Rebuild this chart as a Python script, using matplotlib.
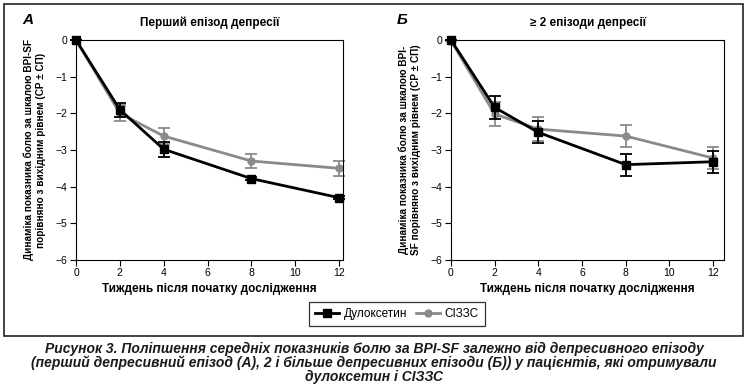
import matplotlib
matplotlib.use("Agg")
import matplotlib.pyplot as plt
from matplotlib.lines import Line2D
from matplotlib.patches import Rectangle

# data
weeks = [0, 2, 4, 8, 12]

a_dulox = [0, -1.9, -2.98, -3.78, -4.3]
a_dulox_err = [0, 0.19, 0.2, 0.05, 0.05]
a_snri = [0, -2.0, -2.62, -3.3, -3.5]
a_snri_err = [0, 0.22, 0.22, 0.18, 0.2]

b_dulox = [0, -1.84, -2.52, -3.4, -3.32]
b_dulox_err = [0, 0.31, 0.3, 0.3, 0.3]
b_snri = [-0.02, -2.02, -2.43, -2.62, -3.22]
b_snri_err = [0, 0.32, 0.32, 0.3, 0.3]

y_ticks = [0, -1, -2, -3, -4, -5, -6]
x_ticks = [0, 2, 4, 6, 8, 10, 12]

plt.rcParams['font.family'] = ['Liberation Sans', 'DejaVu Sans']

W, H = 748, 392
fig = plt.figure(figsize=(W / 100, H / 100), dpi=100)


def px_axes(x0, y0, x1, y1):
    return fig.add_axes([x0 / W, 1 - y1 / H, (x1 - x0) / W, (y1 - y0) / H])


def panel(ax, dul, dul_e, sn, sn_e, xmax, title, letter, ylabel):
    ax.errorbar(weeks, sn, yerr=sn_e, color='#8a8a8a', lw=2, marker='o', ms=5,
                capsize=4, elinewidth=1.3, capthick=1.3, zorder=2)
    ax.errorbar(weeks, dul, yerr=dul_e, color='black', lw=2, marker='s', ms=5.5,
                capsize=4, elinewidth=1.3, capthick=1.3, zorder=3)
    ax.set_xlim(0, xmax)
    ax.set_ylim(-6, 0)
    ax.set_xticks(x_ticks)
    ax.set_yticks(y_ticks)
    ax.tick_params(labelsize=7.5, length=4, width=0.8, pad=2)
    for s in ax.spines.values():
        s.set_linewidth(0.8)
    for p in ax.get_children():
        if hasattr(p, 'set_clip_on'):
            p.set_clip_on(False)
    ax.set_xlabel('Тиждень після початку дослідження', fontsize=8.5,
                  fontweight='bold', labelpad=3)
    ax.set_ylabel(ylabel, fontsize=7.2, fontweight='bold', labelpad=7,
                  linespacing=1.2)
    ax.set_title(title, fontsize=8.5, fontweight='bold', pad=10)
    ax.text(-0.18, 1.09, letter, transform=ax.transAxes, fontsize=11,
            fontweight='bold', style='italic', ha='center', va='center')


ax1 = px_axes(76, 40, 343, 260)
panel(ax1, a_dulox, a_dulox_err, a_snri, a_snri_err, 12.18,
      'Перший епізод депресії', 'А',
      'Динаміка показника болю за шкалою BPI-SF\nпорівняно з вихідним рівнем (СР ± СП)')

ax2 = px_axes(451, 40, 724, 260)
panel(ax2, b_dulox, b_dulox_err, b_snri, b_snri_err, 12.5,
      '≥ 2 епізоди депресії', 'Б',
      'Динаміка показника болю за шкалою BPI-\nSF порівняно з вихідним рівнем (СР ± СП)')

handles = [Line2D([], [], color='black', lw=2, marker='s', ms=5.5),
           Line2D([], [], color='#8a8a8a', lw=2, marker='o', ms=5)]
leg = fig.legend(handles, ['Дулоксетин', 'СІЗЗС'], loc='center',
                 bbox_to_anchor=(397 / W, 1 - 314 / H), ncol=2, fontsize=8.5,
                 frameon=True, fancybox=False, handlelength=2.0,
                 columnspacing=0.8, handletextpad=0.4, borderpad=0.5)
leg.get_frame().set_edgecolor('black')
leg.get_frame().set_linewidth(0.9)

fig.patches.append(Rectangle((4 / W, 1 - 336 / H), 739 / W, 332 / H,
                             transform=fig.transFigure, fill=False,
                             edgecolor='#222222', lw=1.2))

caption = ['Рисунок 3. Поліпшення середніх показників болю за BPI-SF залежно від депресивного епізоду',
           '(перший депресивний епізод (А), 2 і більше депресивних епізоди (Б)) у пацієнтів, які отримували',
           'дулоксетин і СІЗЗС']
for i, line in enumerate(caption):
    fig.text(0.5, 1 - (349 + 14 * i) / H, line, ha='center', va='center',
             fontsize=10, fontweight='bold', style='italic', color='#1a1a1a')

fig.savefig('out.png', dpi=100)
